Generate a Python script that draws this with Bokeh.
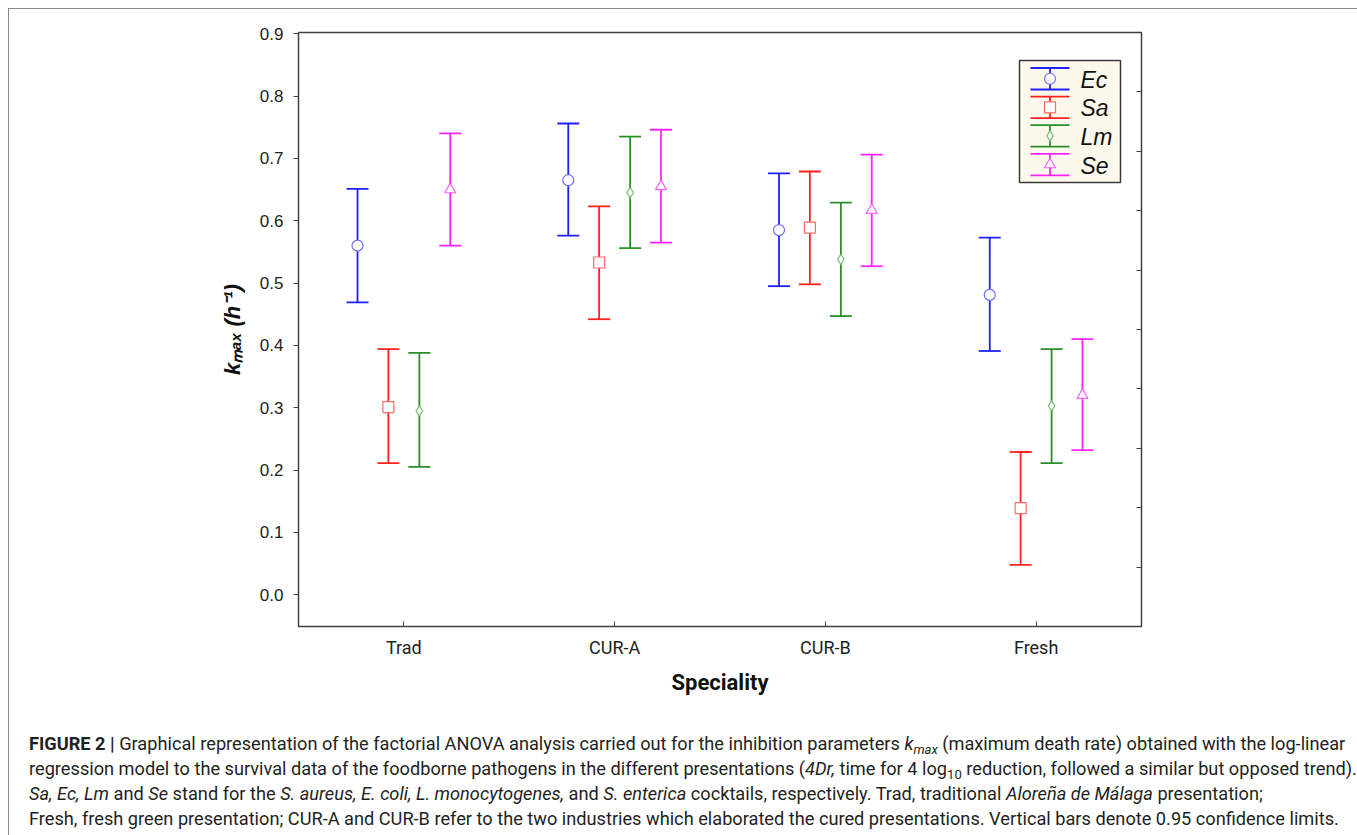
from bokeh.plotting import figure
from bokeh.models import (FactorRange, Range1d, LinearAxis, FixedTicker, Div,
                          ColumnDataSource, PrintfTickFormatter)
from bokeh.transform import dodge
from bokeh.layouts import column
from bokeh.core.properties import value
from bokeh.embed import file_html
from bokeh.resources import INLINE

# ---------------- data ----------------
specialities = ["Trad", "CUR-A", "CUR-B", "Fresh"]
series = ["Ec", "Sa", "Lm", "Se"]

ec_mean = [0.560, 0.665, 0.585, 0.481]
ec_low = [0.469, 0.576, 0.495, 0.391]
ec_high = [0.651, 0.756, 0.676, 0.573]

sa_mean = [0.301, 0.533, 0.589, 0.139]
sa_low = [0.211, 0.442, 0.498, 0.048]
sa_high = [0.394, 0.623, 0.679, 0.229]

lm_mean = [0.295, 0.645, 0.538, 0.303]
lm_low = [0.205, 0.556, 0.447, 0.211]
lm_high = [0.388, 0.735, 0.629, 0.394]

se_mean = [0.650, 0.655, 0.617, 0.320]
se_low = [0.560, 0.565, 0.527, 0.232]
se_high = [0.740, 0.746, 0.706, 0.410]

y_ticks = [0.0, 0.1, 0.2, 0.3, 0.4, 0.5, 0.6, 0.7, 0.8, 0.9]
right_ticks = [1, 2, 3, 4, 5, 6, 7, 8, 9]

# ---------------- styles ----------------
line_colors = ["#1f1fff", "#ff2020", "#2a8f2a", "#ff22ff"]
marker_colors = ["#6f6fff", "#ff6a6a", "#7dbd7d", "#ff5cff"]
markers = ["circle", "square", "diamond", "triangle"]
marker_sizes = [11, 11, 10, 11]
offsets = [-0.22, -0.0735, 0.0735, 0.22]

FONT = "Liberation Sans"
NARROW = "Roboto"

W, H = 1347, 703
p = figure(width=W, height=H, output_backend="svg", toolbar_location=None,
           x_range=FactorRange(*specialities, range_padding=0),
           y_range=Range1d(-0.051, 0.902),
           min_border_left=289, min_border_right=215,
           min_border_top=23, min_border_bottom=86)
p.grid.visible = False
p.outline_line_color = "#404040"
p.outline_line_width = 1.5
p.background_fill_color = "white"
p.border_fill_color = "white"

means = [ec_mean, sa_mean, lm_mean, se_mean]
lows = [ec_low, sa_low, lm_low, se_low]
highs = [ec_high, sa_high, lm_high, se_high]

for i, name in enumerate(series):
    src = ColumnDataSource(dict(cat=specialities, mean=means[i],
                                low=lows[i], high=highs[i]))
    xd = dodge("cat", offsets[i], range=p.x_range)
    p.segment(x0=xd, y0="low", x1=xd, y1="high", source=src,
              line_color=line_colors[i], line_width=1.8)
    p.scatter(x=xd, y="low", source=src, marker="dash", size=22,
              line_color=line_colors[i], line_width=1.8)
    p.scatter(x=xd, y="high", source=src, marker="dash", size=22,
              line_color=line_colors[i], line_width=1.8)
    p.scatter(x=xd, y="mean", source=src, marker=markers[i],
              size=marker_sizes[i], fill_color="white",
              line_color=marker_colors[i], line_width=1.2)

# ---------------- legend (drawn manually, in pixel layout) ----------------
FL, FW, FT, FH = 298.0, 843.0, 32.0, 594.0
Y0, Y1 = -0.051, 0.902


def dx(px):
    return (px - FL) / FW * len(specialities)


def dy(py):
    return Y1 - (py - FT) / FH * (Y1 - Y0)


p.quad(left=[dx(1019)], right=[dx(1120)], top=[dy(60)], bottom=[dy(182)],
       fill_color="#fcf8ec", line_color="#3a3a3a", line_width=1.5)
for i, name in enumerate(series):
    top = 67.5 + 28.6 * i
    bot = top + 21.5
    mid = (top + bot) / 2
    cx = 1049.5
    p.segment(x0=[dx(cx)], y0=[dy(top)], x1=[dx(cx)], y1=[dy(bot)],
              line_color=line_colors[i], line_width=1.8)
    p.segment(x0=[dx(cx - 19.5), dx(cx - 19.5)], y0=[dy(top), dy(bot)],
              x1=[dx(cx + 19.5), dx(cx + 19.5)], y1=[dy(top), dy(bot)],
              line_color=line_colors[i], line_width=1.8)
    p.scatter(x=[dx(cx)], y=[dy(mid)], marker=markers[i], size=marker_sizes[i],
              fill_color="white", line_color=marker_colors[i], line_width=1.2)
    p.text(x=[dx(1080)], y=[dy(mid + 1)], text=[name], text_font=value(FONT),
           text_font_style="italic", text_font_size="23px", text_color="#111111",
           text_baseline="middle", text_align="left")

# ---------------- axes ----------------
yax = p.yaxis[0]
yax.ticker = FixedTicker(ticks=y_ticks)
yax.formatter = PrintfTickFormatter(format="%.1f")
yax.major_tick_out = 5
yax.major_tick_in = 0
yax.minor_tick_out = 0
yax.minor_tick_in = 0
yax.axis_line_color = None
yax.major_tick_line_color = "#404040"
yax.major_label_text_font = FONT
yax.major_label_text_font_size = "17px"
yax.major_label_text_color = "#222222"
yax.major_label_standoff = 10
yax.axis_label = "k\u2098\u2090\u2093 (h\u207b\u00b9)"
yax.axis_label_text_font = FONT
yax.axis_label_text_font_style = "bold italic"
yax.axis_label_text_font_size = "22px"
yax.axis_label_text_color = "#111111"
yax.axis_label_standoff = 12

xax = p.xaxis[0]
xax.major_tick_in = 5
xax.major_tick_out = 0
xax.axis_line_color = None
xax.major_tick_line_color = "#404040"
xax.major_label_text_font = NARROW
xax.major_label_text_font_size = "18px"
xax.major_label_text_color = "#222222"
xax.major_label_standoff = 10
xax.axis_label = "Speciality"
xax.axis_label_text_font = NARROW
xax.axis_label_text_font_style = "bold"
xax.axis_label_text_font_size = "22px"
xax.axis_label_text_color = "#111111"
xax.axis_label_standoff = 9

p.extra_y_ranges = {"r": Range1d(0, 10)}
rax = LinearAxis(y_range_name="r", ticker=FixedTicker(ticks=right_ticks),
                 major_label_overrides={t: "" for t in right_ticks},
                 major_tick_in=5, major_tick_out=0,
                 minor_tick_in=0, minor_tick_out=0, axis_line_color=None,
                 major_tick_line_color="#404040")
p.add_layout(rax, "right")

# ---------------- caption ----------------
SUB = "<span style='font-size:72%;position:relative;top:0.32em;line-height:0'>"
cap_style = ("font-family: Roboto, sans-serif; font-size: 18.2px;"
             "line-height: 25px; color: #231f20; padding: 14px 0 0 15px; "
             "white-space: nowrap; margin: 0;")
caption_html = (
    f"<div style=\"{cap_style}\">"
    "<b>FIGURE 2 |</b> Graphical representation of the factorial ANOVA analysis carried out for the "
    f"inhibition parameters <i>k{SUB}max</span></i> (maximum death rate) obtained with the log-linear<br>"
    "regression model to the survival data of the foodborne pathogens in the different presentations "
    f"(<i>4Dr,</i> time for 4 log{SUB}10</span> reduction, followed a similar but opposed trend).<br>"
    "<i>Sa, Ec, Lm</i> and <i>Se</i> stand for the <i>S. aureus, E. coli, L. monocytogenes,</i> and "
    "<i>S. enterica</i> cocktails, respectively. Trad, traditional <i>Alore\u00f1a de M\u00e1laga</i> presentation;<br>"
    "Fresh, fresh green presentation; CUR-A and CUR-B refer to the two industries which elaborated the "
    "cured presentations. Vertical bars denote 0.95 confidence limits."
    "</div>"
)
caption = Div(text=caption_html, width=W, height=120)

layout = column(p, caption, styles={"border": "1px solid #8a8a8a",
                                    "margin-left": "8px", "margin-top": "8px"})

open("out.html", "w").write(file_html(layout, INLINE))
